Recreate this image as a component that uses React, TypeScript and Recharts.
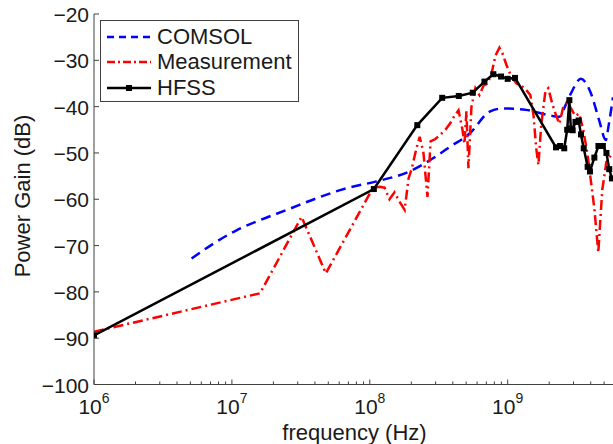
import React from "react";
import { LineChart, Line, XAxis, YAxis, Legend } from "recharts";

const FONT = "'Liberation Sans', Arial, Helvetica, sans-serif";
const AXIS = "#404040";
const TEXT = "#1a1a1a";

// COMSOL simulation (blue dashed)
const comsolFreq = [
  5.1e6, 7.7e6, 1.08e7, 1.6e7, 2.5e7, 4.1e7, 6.8e7, 1.1e8, 1.9e8, 3.0e8,
  3.8e8, 5.3e8, 7.4e8, 9.2e8, 1.36e9, 2.1e9, 2.37e9, 2.6e9, 2.88e9, 3.4e9,
  4.0e9, 4.6e9, 5.15e9, 5.4e9, 5.8e9,
];
const comsolGain = [
  -72.8, -69.2, -66.7, -64.5, -62.3, -59.8, -57.6, -56.2, -54.1, -50.8,
  -48.7, -45.8, -41.1, -40.4, -40.7, -42.0, -42.2, -40.0, -37.1, -34.0,
  -37.0, -42.9, -47.2, -44.0, -38.0,
];

// Measurement (red dash-dot)
const measFreq = [
  1e6, 1.6e7, 3.2e7, 4.8e7, 1.05e8, 1.18e8, 1.28e8, 1.39e8, 1.51e8, 1.64e8,
  1.79e8, 1.91e8, 2.01e8, 2.18e8, 2.3e8, 2.45e8, 2.62e8, 2.76e8, 2.99e8, 3.26e8,
  3.54e8, 3.85e8, 4.11e8, 4.4e8, 4.7e8, 4.86e8, 5.02e8, 5.19e8, 5.46e8, 5.83e8,
  6.24e8, 6.67e8, 7.13e8, 7.62e8, 8.15e8, 8.71e8, 9.16e8, 9.8e8, 1.06e9, 1.16e9,
  1.26e9, 1.37e9, 1.46e9, 1.54e9, 1.61e9, 1.67e9, 1.75e9, 1.88e9, 1.97e9, 2.11e9,
  2.25e9, 2.37e9, 2.53e9, 2.71e9, 2.89e9, 3.09e9, 3.3e9, 3.53e9, 3.78e9, 3.97e9,
  4.25e9, 4.54e9, 4.85e9, 5.19e9, 5.73e9,
];
const measGain = [
  -88.6, -80.3, -63.8, -76.0, -57.6, -57.3, -57.5, -60.0, -58.5, -60.5,
  -62.3, -55.5, -53.5, -49.0, -46.5, -50.0, -59.5, -47.5, -47.0, -46.0,
  -45.0, -43.5, -42.0, -40.8, -45.0, -48.0, -41.0, -53.3, -40.0, -36.0,
  -37.5, -35.5, -35.0, -33.0, -29.0, -27.3, -28.5, -31.0, -33.5, -35.0,
  -35.5, -36.5, -37.5, -42.0, -49.0, -52.6, -44.0, -36.5, -36.0, -39.5,
  -42.0, -43.7, -40.0, -39.0, -40.5, -42.0, -41.5, -45.0, -50.0, -55.0,
  -62.0, -71.5, -58.0, -52.0, -50.0,
];

// HFSS simulation (black, square markers)
const hfssFreq = [
  1e6, 1.07e8, 2.21e8, 3.35e8, 4.42e8, 5.58e8, 6.78e8, 7.87e8, 8.95e8, 1.0e9,
  1.13e9, 2.24e9, 2.4e9, 2.57e9, 2.7e9, 2.8e9, 2.87e9, 2.96e9, 3.1e9, 3.27e9,
  3.4e9, 3.56e9, 3.8e9, 3.95e9, 4.25e9, 4.55e9, 4.9e9, 5.2e9, 5.45e9, 5.7e9,
];
const hfssGain = [
  -89.4, -57.8, -44.0, -38.1, -37.7, -37.0, -34.6, -33.0, -33.5, -34.0,
  -33.8, -48.8, -48.5, -49.0, -45.0, -38.6, -44.7, -45.1, -43.3, -43.0,
  -46.0, -49.0, -53.0, -54.0, -51.0, -48.5, -48.5, -50.0, -53.5, -55.5,
];

const majorTicks = [1e6, 1e7, 1e8, 1e9];
const minorSteps = [2, 3, 4, 5, 6, 7, 8, 9];
const xMax = 6e9;
const yTicks = [-100, -90, -80, -70, -60, -50, -40, -30, -20];

const xTicks = majorTicks
  .flatMap((d) => [d, ...minorSteps.map((m) => m * d)])
  .filter((v) => v <= xMax);

const toPoints = (f: number[], g: number[]) => f.map((x, i) => ({ x, y: g[i] }));
const comsolData = toPoints(comsolFreq, comsolGain);
const measData = toPoints(measFreq, measGain);
const hfssData = toPoints(hfssFreq, hfssGain);

const isMajor = (v: number) => {
  const e = Math.log10(v);
  return Math.abs(e - Math.round(e)) < 1e-6;
};

const BottomTick = (props: any) => {
  const { x, y, payload } = props;
  const v = payload.value;
  const major = isMajor(v);
  return (
    <g>
      <line x1={x} x2={x} y1={y} y2={y - (major ? 5 : 3)} stroke={AXIS} />
      {major && (
        <text x={x} y={y + 29} textAnchor="middle" fontSize={21} fill={TEXT} fontFamily={FONT}>
          10
          <tspan dy={-11} fontSize={14}>
            {Math.round(Math.log10(v))}
          </tspan>
        </text>
      )}
    </g>
  );
};

const TopTick = (props: any) => {
  const { x, y, payload } = props;
  const major = isMajor(payload.value);
  return <line x1={x} x2={x} y1={y} y2={y + (major ? 5 : 3)} stroke={AXIS} />;
};

const LeftTick = (props: any) => {
  const { x, y, payload } = props;
  const v = payload.value;
  const label = v < 0 ? "\u2212" + Math.abs(v) : String(v);
  return (
    <g>
      <line x1={x} x2={x + 5} y1={y} y2={y} stroke={AXIS} />
      <text x={x - 5} y={y + 8} textAnchor="end" fontSize={21} fill={TEXT} fontFamily={FONT}>
        {label}
      </text>
    </g>
  );
};

const RightTick = (props: any) => {
  const { x, y } = props;
  return <line x1={x - 5} x2={x} y1={y} y2={y} stroke={AXIS} />;
};

const SquareDot = (props: any) => {
  const { cx, cy, index } = props;
  if (cx == null || cy == null) return <g key={`s-${index}`} />;
  return <rect key={`s-${index}`} x={cx - 3} y={cy - 3} width={6} height={6} fill="#000" />;
};

const legendItems = [
  { name: "COMSOL", color: "#0000ff", dash: "7 5", marker: false },
  { name: "Measurement", color: "#ff0000", dash: "8 3 2 3", marker: false },
  { name: "HFSS", color: "#000000", dash: undefined, marker: true },
];

const LegendBox = () => (
  <div
    style={{
      boxSizing: "border-box",
      width: 199,
      height: 82,
      border: `1px solid ${AXIS}`,
      background: "#fff",
      paddingTop: 3,
      fontFamily: FONT,
      fontSize: 22,
      color: TEXT,
    }}
  >
    {legendItems.map((it) => (
      <div key={it.name} style={{ display: "flex", alignItems: "center", height: 25.5 }}>
        <svg width={56} height={14} style={{ flex: "none" }}>
          <line
            x1={6}
            x2={50}
            y1={7}
            y2={7}
            stroke={it.color}
            strokeWidth={2.5}
            strokeDasharray={it.dash}
          />
          {it.marker && <rect x={25} y={4} width={6} height={6} fill="#000" />}
        </svg>
        <span style={{ lineHeight: "22px" }}>{it.name}</span>
      </div>
    ))}
  </div>
);

export default function App() {
  return (
    <div style={{ position: "absolute", left: 0, top: 0, width: 613, height: 444, overflow: "hidden", background: "#fff" }}>
      <LineChart width={615} height={444} margin={{ top: 14, right: 0, bottom: 0, left: 0 }}>
        <XAxis
          xAxisId="b"
          dataKey="x"
          type="number"
          scale="log"
          domain={[1e6, xMax]}
          allowDataOverflow
          ticks={xTicks}
          interval={0}
          height={59.5}
          tickSize={0}
          tickMargin={0}
          tickLine={false}
          axisLine={{ stroke: AXIS }}
          tick={(p: any) => <BottomTick {...p} />}
          label={{
            content: (p: any) => {
              const vb = p.viewBox;
              return (
                <text x={vb.x + vb.width / 2} y={440} textAnchor="middle" fontSize={22} fill={TEXT} fontFamily={FONT}>
                  frequency (Hz)
                </text>
              );
            },
          }}
        />
        <XAxis
          xAxisId="t"
          orientation="top"
          dataKey="x"
          type="number"
          scale="log"
          domain={[1e6, xMax]}
          allowDataOverflow
          ticks={xTicks}
          interval={0}
          height={0}
          tickSize={0}
          tickMargin={0}
          tickLine={false}
          axisLine={{ stroke: AXIS }}
          tick={(p: any) => <TopTick {...p} />}
        />
        <YAxis
          yAxisId="l"
          type="number"
          domain={[-100, -20]}
          allowDataOverflow
          ticks={yTicks}
          interval={0}
          width={94}
          tickSize={0}
          tickMargin={0}
          tickLine={false}
          axisLine={{ stroke: AXIS }}
          tick={(p: any) => <LeftTick {...p} />}
          label={{
            content: () => (
              <text
                x={30}
                y={196}
                transform="rotate(-90 30 196)"
                textAnchor="middle"
                fontSize={22}
                fill={TEXT}
                fontFamily={FONT}
              >
                Power Gain (dB)
              </text>
            ),
          }}
        />
        <YAxis
          yAxisId="r"
          orientation="right"
          type="number"
          domain={[-100, -20]}
          allowDataOverflow
          ticks={yTicks}
          interval={0}
          width={0}
          tickSize={0}
          tickMargin={0}
          tickLine={false}
          axisLine={{ stroke: AXIS }}
          tick={(p: any) => <RightTick {...p} />}
        />
        <Legend
          layout="vertical"
          align="center"
          verticalAlign="middle"
          wrapperStyle={{ left: 100, top: 20, width: 199, height: 82 }}
          content={() => <LegendBox />}
        />
        <Line
          xAxisId="b"
          yAxisId="l"
          data={comsolData}
          dataKey="y"
          name="COMSOL"
          type="monotone"
          stroke="#0000ff"
          strokeWidth={2.5}
          strokeDasharray="10 6"
          dot={false}
          isAnimationActive={false}
        />
        <Line
          xAxisId="b"
          yAxisId="l"
          data={measData}
          dataKey="y"
          name="Measurement"
          type="linear"
          stroke="#ff0000"
          strokeWidth={2.5}
          strokeDasharray="10 4 2 4"
          dot={false}
          isAnimationActive={false}
        />
        <Line
          xAxisId="b"
          yAxisId="l"
          data={hfssData}
          dataKey="y"
          name="HFSS"
          type="linear"
          stroke="#000000"
          strokeWidth={2.5}
          dot={(p: any) => <SquareDot {...p} />}
          isAnimationActive={false}
        />
      </LineChart>
    </div>
  );
}
